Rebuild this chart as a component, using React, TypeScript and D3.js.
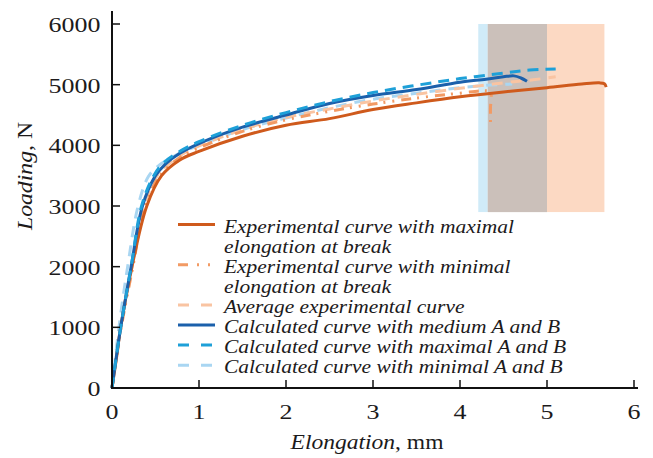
import React from "react";
import * as d3 from "d3";

type Pt = [number, number];

const xTicks = [0, 1, 2, 3, 4, 5, 6];
const yTicks = [0, 1000, 2000, 3000, 4000, 5000, 6000];

const expMax: Pt[] = [
  [0, 0], [0.05, 480], [0.1, 1000], [0.23, 2000], [0.4, 3000], [0.57, 3500], [0.78, 3760],
  [1.0, 3900], [1.5, 4150], [2.0, 4330], [2.5, 4440], [3.0, 4590], [3.5, 4700], [4.0, 4800],
  [4.5, 4880], [5.0, 4950], [5.4, 5010], [5.6, 5030], [5.66, 5015], [5.68, 4960],
];
const expMin: Pt[] = [
  [0, 0], [0.1, 950], [0.24, 2000], [0.38, 3000], [0.55, 3500], [0.78, 3800], [1.0, 3960],
  [1.5, 4230], [2.0, 4420], [2.5, 4560], [3.0, 4680], [3.5, 4780], [4.0, 4860], [4.3, 4900],
  [4.35, 4880], [4.35, 4600], [4.35, 4350],
];
const expAvg: Pt[] = [
  [0, 0], [0.1, 1000], [0.23, 2000], [0.37, 3000], [0.52, 3500], [0.78, 3830], [1.0, 3990],
  [1.5, 4260], [2.0, 4460], [2.5, 4600], [3.0, 4730], [3.5, 4840], [4.0, 4940], [4.5, 5030],
  [4.84, 5080], [5.1, 5130],
];
const calcMed: Pt[] = [
  [0, 0], [0.1, 1000], [0.22, 2000], [0.35, 3000], [0.5, 3500], [0.62, 3700], [0.78, 3870],
  [1.0, 4030], [1.5, 4300], [2.0, 4500], [2.5, 4690], [3.0, 4820], [3.5, 4920], [4.0, 5040],
  [4.3, 5090], [4.5, 5130], [4.62, 5145], [4.7, 5110], [4.77, 5055],
];
const calcMax: Pt[] = [
  [0, 0], [0.1, 1000], [0.22, 2000], [0.34, 3000], [0.48, 3500], [0.6, 3720], [0.78, 3900],
  [1.0, 4060], [1.5, 4330], [2.0, 4540], [2.5, 4720], [3.0, 4870], [3.5, 4990], [4.0, 5100],
  [4.5, 5190], [4.8, 5240], [5.1, 5260],
];
const calcMinPts: Pt[] = [
  [0, 0], [0.08, 1000], [0.18, 2000], [0.3, 3000], [0.42, 3490], [0.55, 3680], [0.78, 3870],
  [1.0, 4000], [1.5, 4260], [2.0, 4450], [2.5, 4620], [3.0, 4760], [3.5, 4860], [4.0, 4950],
  [4.3, 4990], [4.6, 5010],
];

// break elongation ranges: calculated (blue) and experimental (peach)
const breakCalc = { x0: 4.21, x1: 5.0, y0: 2900, y1: 6000 };
const breakExp = { x0: 4.32, x1: 5.66, y0: 2900, y1: 6000 };
const rangeColors = { calc: "#d0ebf8", exp: "#fcd9c3", overlap: "#cbc0ba" };

const seriesNames = [
  ["Experimental curve with maximal", "elongation at break"],
  ["Experimental curve with minimal", "elongation at break"],
  ["Average experimental curve"],
  ["Calculated curve with medium A and B"],
  ["Calculated curve with maximal A and B"],
  ["Calculated curve with minimal A and B"],
];

const seriesData = [expMax, expMin, expAvg, calcMed, calcMax, calcMinPts];
const styles = [
  { color: "#cf5a1c", dash: "", w: 3 },
  { color: "#f29a64", dash: "10,6,2,7,2,7", w: 3 },
  { color: "#f9c4a2", dash: "11,8", w: 3 },
  { color: "#1b60ab", dash: "", w: 3 },
  { color: "#1ea0d8", dash: "11,7", w: 3 },
  { color: "#a9d6f2", dash: "11,8", w: 3 },
];
const drawOrder = [5, 2, 1, 0, 3, 4];

export default function App() {
  const W = 653, H = 458;
  const x = d3.scaleLinear().domain([0, 6]).range([112, 634]);
  const y = d3.scaleLinear().domain([0, 6000]).range([388, 24]);
  const line = d3
    .line<Pt>()
    .x((d) => x(d[0]))
    .y((d) => y(d[1]))
    .curve(d3.curveCatmullRom.alpha(0.5));
  const font = "'Liberation Serif', 'Times New Roman', serif";
  const txt = "#1c1a1b";

  const legendX0 = 178, legendX1 = 215, textX = 224, row0 = 224.5, rowH = 20.1;
  let r = 0;
  const legendItems = seriesNames.map((lines, i) => {
    const yy = row0 + r * rowH;
    r += lines.length;
    return { i, lines, yy };
  });

  const rectOf = (b: { x0: number; x1: number; y0: number; y1: number }) => ({
    x: x(b.x0), y: y(b.y1), width: x(b.x1) - x(b.x0), height: y(b.y0) - y(b.y1),
  });
  const ov = {
    x0: Math.max(breakCalc.x0, breakExp.x0), x1: Math.min(breakCalc.x1, breakExp.x1),
    y0: Math.max(breakCalc.y0, breakExp.y0), y1: Math.min(breakCalc.y1, breakExp.y1),
  };

  return (
    <svg width={W} height={H} style={{ position: "absolute", left: 0, top: 0, background: "#fff" }} fontFamily={font}>
      <rect {...rectOf(breakCalc)} fill={rangeColors.calc} />
      <rect {...rectOf(breakExp)} fill={rangeColors.exp} />
      <rect {...rectOf(ov)} fill={rangeColors.overlap} />
      {drawOrder.map((i) => (
        <path key={i} d={line(seriesData[i]) || ""} fill="none" stroke={styles[i].color}
          strokeWidth={styles[i].w} strokeDasharray={styles[i].dash} strokeLinejoin="round" />
      ))}
      <line x1={x(0)} x2={x(0)} y1={11} y2={y(0) + 1} stroke="#111" strokeWidth={2} />
      <line x1={x(0) - 1} x2={638} y1={y(0)} y2={y(0)} stroke="#111" strokeWidth={2} />
      {yTicks.map((t) => (
        <g key={t}>
          {t > 0 && <line x1={x(0)} x2={x(0) + 8} y1={y(t)} y2={y(t)} stroke="#111" strokeWidth={1.5} />}
          <text transform={`translate(100.5,${y(t) + 8}) scale(1.18,1)`} textAnchor="end" fontSize={22} fill={txt}>{t}</text>
        </g>
      ))}
      {xTicks.map((t) => (
        <g key={t}>
          {t > 0 && <line x1={x(t)} x2={x(t)} y1={y(0)} y2={y(0) - 8} stroke="#111" strokeWidth={1.5} />}
          <text transform={`translate(${x(t)},419) scale(1.18,1)`} textAnchor="middle" fontSize={22} fill={txt}>{t}</text>
        </g>
      ))}
      <text transform="translate(367,449) scale(1.07,1)" textAnchor="middle" fontSize={22} fill={txt}>
        <tspan fontStyle="italic">Elongation</tspan>, mm
      </text>
      <text transform="translate(32,176) rotate(-90) scale(1.08,1)" textAnchor="middle" fontSize={22} fill={txt}>
        <tspan fontStyle="italic">Loading</tspan>, N
      </text>
      {legendItems.map(({ i, lines, yy }) => (
        <g key={i}>
          <line x1={legendX0} x2={legendX1} y1={yy} y2={yy} stroke={styles[i].color} strokeWidth={3}
            strokeDasharray={i === 1 ? "10,9,2,9,2,9" : styles[i].dash ? "11,12" : ""} />
          {lines.map((s, k) => (
            <text key={k} transform={`translate(${textX},${yy + k * rowH + 8}) scale(1.1,1)`} fontSize={19.5} fontStyle="italic" fill={txt}>{s}</text>
          ))}
        </g>
      ))}
    </svg>
  );
}
